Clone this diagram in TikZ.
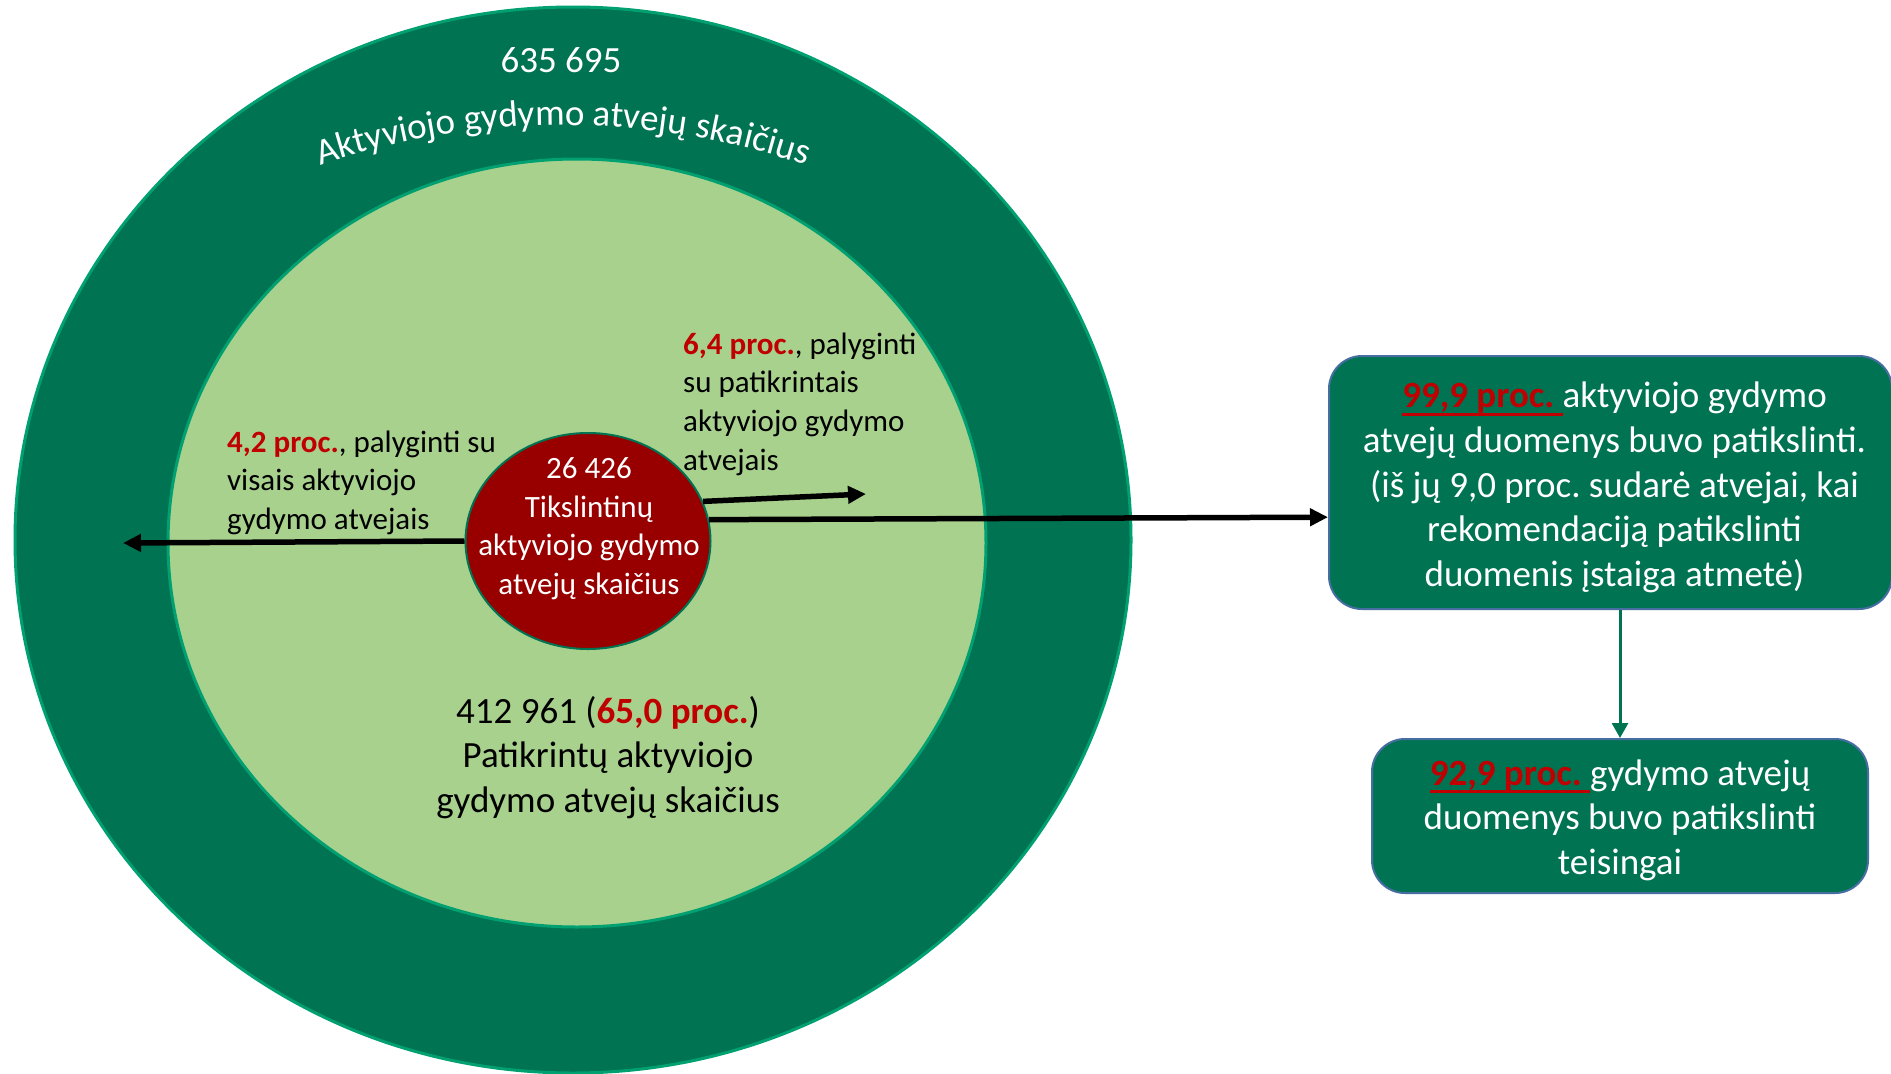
\documentclass[tikz,border=0pt]{standalone}
\usepackage{fontspec}
\setmainfont{Carlito}
\usetikzlibrary{shapes.geometric,arrows.meta,decorations.text,calc}
\definecolor{dkgreen}{RGB}{0,115,82}
\definecolor{rimgreen}{RGB}{0,160,112}
\definecolor{ltgreen}{RGB}{169,209,142}
\definecolor{dkred}{RGB}{152,0,0}
\definecolor{procred}{RGB}{192,0,0}
\definecolor{boxline}{RGB}{70,110,160}
\newcommand{\ulred}[1]{\setbox0=\hbox{#1}\leavevmode\rlap{\raisebox{-0.22em}{\rule{\wd0}{0.08em}}}\box0}
\frenchspacing
\begin{document}
\begin{tikzpicture}[x=1pt,y=-1pt,
  lbl/.style={font=\fontsize{31}{38.6}\selectfont, align=left, inner sep=0pt, text=black},
  wsmall/.style={font=\fontsize{31}{38.6}\selectfont, align=center, inner sep=0pt, text=white},
  bigtxt/.style={font=\fontsize{37}{44.6}\selectfont, align=center, inner sep=0pt},
  gbox/.style={draw=boxline, line width=2pt, fill=dkgreen, rounded corners=33pt, inner sep=0pt},
  boxtxt/.style={text=white, font=\fontsize{37}{44.6}\selectfont, align=center, inner sep=0pt},
  blackarr/.style={draw=black, line width=5.5pt, -{Triangle[length=18pt,width=17pt]}},
  greenarr/.style={draw=dkgreen, line width=3pt, -{Triangle[length=15pt,width=16pt]}}]
\useasboundingbox (0,0) rectangle (1891,1074);
\fill[white] (0,0) rectangle (1891,1074);
% circles
\node[ellipse, fill=dkgreen, draw=rimgreen, line width=3pt, minimum width=1116pt, minimum height=1066pt, inner sep=0pt] (outer) at (573,540) {};
\node[ellipse, fill=ltgreen, draw=rimgreen, line width=3pt, minimum width=818pt, minimum height=768pt, inner sep=0pt] (inner) at (577,543) {};
\node[ellipse, fill=dkred, draw=dkgreen, line width=2pt, minimum width=245pt, minimum height=216pt, inner sep=0pt] (red) at (588,541) {};
% texts in circles
\node[bigtxt, text=white] (num) at (561,60) {635 695};
\path[decorate, decoration={text along path, text={|\fontsize{37}{40}\selectfont|Aktyviojo gydymo atvejų skaičius}, text align=center, text color=white}]
  (321.2,164.9) .. controls (478.2,112.0) and (647.8,112.0) .. (804.8,164.9);
\node[wsmall] (redtxt) at (589,528.5) {26 426\\Tikslintinų\\aktyviojo gydymo\\atvejų skaičius};
\node[lbl, anchor=west] (t42) at (227,482.5) {\textcolor{procred}{\textbf{4,2 proc.}}, palyginti su\\visais aktyviojo\\gydymo atvejais};
\node[lbl, anchor=west] (t64) at (683,404) {\textcolor{procred}{\textbf{6,4 proc.}}, palyginti\\su patikrintais\\aktyviojo gydymo\\atvejais};
\node[bigtxt, text=black] (pat) at (608,757.5) {412 961 (\textcolor{procred}{\textbf{65,0 proc.}})\\Patikrintų aktyviojo\\gydymo atvejų skaičius};
% boxes
\node[gbox, minimum width=563pt, minimum height=253pt] (box1) at (1610.5,482.5) {};
\node[boxtxt] (box1txt) at (1614.5,487.5) {\textcolor{procred}{\ulred{\textbf{99,9 proc.}\ }}aktyviojo gydymo\\atvejų duomenys buvo patikslinti.\\(iš jų 9,0 proc. sudarė atvejai, kai\\rekomendaciją patikslinti\\duomenis įstaiga atmetė)};
\node[gbox, minimum width=496pt, minimum height=154pt] (box2) at (1620,816) {};
\node[boxtxt] (box2txt) at (1620,820) {\textcolor{procred}{\ulred{\textbf{92,9 proc.}\ }}gydymo atvejų\\duomenys buvo patikslinti\\teisingai};
% arrows
\coordinate (ltip) at (123,543);
\coordinate (stip) at (866,494);
\coordinate (btip) at ($(box1.north west)!0.636!(box1.south west)$);
\draw[blackarr] (red.west) -- (ltip);
\draw[blackarr] (red.19) -- (stip);
\draw[blackarr] (red.10) -- (btip);
\draw[greenarr] (box1.south -| box2.north) -- (box2.north);
\end{tikzpicture}
\end{document}
